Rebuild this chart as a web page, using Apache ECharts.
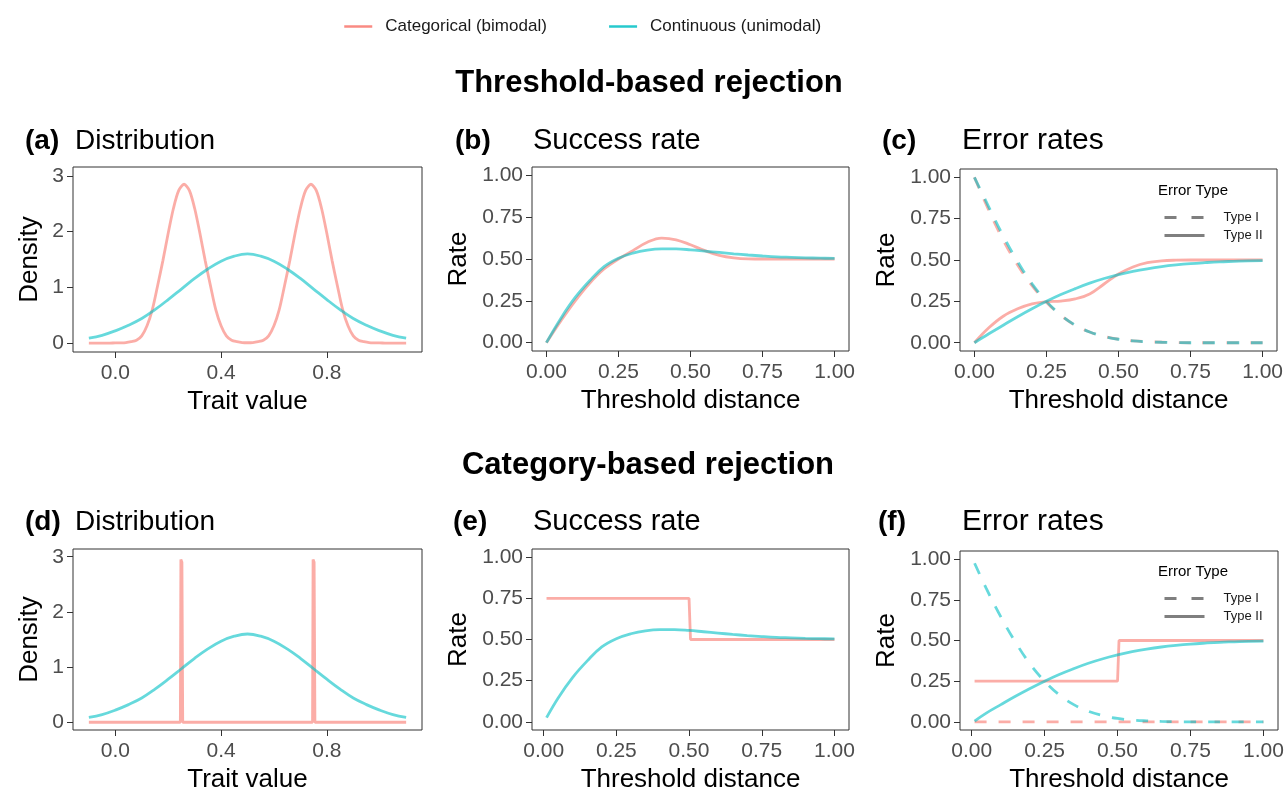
<!DOCTYPE html>
<html>
<head>
<meta charset="utf-8">
<title>Threshold vs category rejection</title>
<script src="https://cdn.jsdelivr.net/npm/echarts@6/dist/echarts.min.js"></script>
<style>
  html, body { margin: 0; padding: 0; background: #fff; }
  #main { width: 1288px; height: 794px; }
</style>
</head>
<body>
<div id="main"></div>
<script>
// 数据
var CAT = 'Categorical (bimodal)';
var CONT = 'Continuous (unimodal)';

// (a)/(d) trait value grid
var traitX = [-0.1, -0.05, 0, 0.05, 0.1, 0.15, 0.2, 0.25, 0.3, 0.35, 0.4, 0.45, 0.5,
  0.55, 0.6, 0.65, 0.7, 0.75, 0.8, 0.85, 0.9, 0.95, 1.0, 1.05, 1.1];
var densCont = [0.09, 0.14, 0.22, 0.32, 0.44, 0.60, 0.78, 0.97, 1.16, 1.33, 1.47, 1.56, 1.60,
  1.56, 1.47, 1.33, 1.16, 0.97, 0.78, 0.60, 0.44, 0.32, 0.22, 0.14, 0.09];

// (a) bimodal density
var catX = [-0.1, -0.08, -0.06, -0.04, -0.02,
  0.00, 0.02, 0.04, 0.06, 0.08, 0.10, 0.12, 0.14, 0.16, 0.18, 0.20, 0.22, 0.24,
  0.26, 0.28, 0.30, 0.32, 0.34, 0.36, 0.38, 0.40, 0.42, 0.44, 0.46, 0.48, 0.50,
  0.52, 0.54, 0.56, 0.58, 0.60, 0.62, 0.64, 0.66, 0.68, 0.70, 0.72, 0.74,
  0.76, 0.78, 0.80, 0.82, 0.84, 0.86, 0.88, 0.90, 0.92, 0.94, 0.96, 0.98, 1.00,
  1.02, 1.04, 1.06, 1.08, 1.10];
var densCat = [0, 0, 0, 0, 0.001,
  0.002, 0.003, 0.008, 0.025, 0.05, 0.13, 0.31, 0.60, 1.03, 1.48, 1.97, 2.42, 2.74,
  2.85, 2.74, 2.42, 1.97, 1.48, 1.03, 0.60, 0.31, 0.13, 0.05, 0.025, 0.01, 0.006,
  0.01, 0.025, 0.05, 0.13, 0.31, 0.60, 1.03, 1.48, 1.97, 2.42, 2.74, 2.85,
  2.74, 2.42, 1.97, 1.48, 1.03, 0.60, 0.31, 0.13, 0.05, 0.025, 0.008, 0.003, 0.002,
  0.001, 0, 0, 0, 0];

// (d) categorical spikes
var spikeX = [-0.1, 0.246, 0.248, 0.252, 0.255, 0.746, 0.748, 0.752, 0.755, 1.1];
var spikeY = [0, 0, 2.95, 2.9, 0, 0, 2.95, 2.9, 0, 0];

// threshold distance grid
var threshX = [0, 0.05, 0.1, 0.15, 0.2, 0.25, 0.3, 0.35, 0.4, 0.45, 0.5,
  0.55, 0.6, 0.65, 0.7, 0.75, 0.8, 0.85, 0.9, 0.95, 1.0];
var threshX2 = [0.01, 0.05, 0.1, 0.15, 0.2, 0.25, 0.3, 0.35, 0.4, 0.45, 0.5,
  0.55, 0.6, 0.65, 0.7, 0.75, 0.8, 0.85, 0.9, 0.95, 1.0];

// (b) success rate
var succCat = [0, 0.13, 0.25, 0.355, 0.44, 0.50, 0.55, 0.60, 0.625, 0.615, 0.585,
  0.55, 0.522, 0.507, 0.501, 0.5, 0.5, 0.5, 0.5, 0.5, 0.5];
var succCont = [0, 0.145, 0.27, 0.37, 0.455, 0.505, 0.535, 0.553, 0.56, 0.56, 0.555,
  0.547, 0.539, 0.531, 0.524, 0.518, 0.513, 0.51, 0.507, 0.505, 0.504];

// (c) error rates
var typeICat = [1.0, 0.80, 0.62, 0.47, 0.345, 0.245, 0.165, 0.105, 0.065, 0.038, 0.021,
  0.011, 0.006, 0.003, 0.001, 0, 0, 0, 0, 0, 0];
var typeICont = [1.0, 0.82, 0.645, 0.49, 0.356, 0.25, 0.167, 0.106, 0.065, 0.038, 0.021,
  0.011, 0.006, 0.003, 0.001, 0, 0, 0, 0, 0, 0];
var typeIICat = [0, 0.09, 0.16, 0.205, 0.235, 0.248, 0.252, 0.265, 0.295, 0.355, 0.415,
  0.458, 0.484, 0.495, 0.499, 0.5, 0.5, 0.5, 0.5, 0.5, 0.5];
var typeIICont = [0, 0.054, 0.106, 0.157, 0.205, 0.25, 0.291, 0.327, 0.36, 0.388, 0.411,
  0.431, 0.447, 0.46, 0.47, 0.478, 0.484, 0.489, 0.492, 0.495, 0.496];

// (e)/(f) category-based rejection
var succCont2 = [0.025, 0.145, 0.27, 0.37, 0.455, 0.505, 0.535, 0.553, 0.56, 0.56, 0.555,
  0.547, 0.539, 0.531, 0.524, 0.518, 0.513, 0.51, 0.507, 0.505, 0.504];
var typeICont2 = [0.975, 0.82, 0.645, 0.49, 0.356, 0.25, 0.167, 0.106, 0.065, 0.038, 0.021,
  0.011, 0.006, 0.003, 0.001, 0, 0, 0, 0, 0, 0];
var typeIICont2 = [0.005, 0.054, 0.106, 0.157, 0.205, 0.25, 0.291, 0.327, 0.36, 0.388, 0.411,
  0.431, 0.447, 0.46, 0.47, 0.478, 0.484, 0.489, 0.492, 0.495, 0.496];
var stepX = [0.01, 0.5, 0.505, 1.0];
var succCatStep = [0.75, 0.75, 0.5, 0.5];
var typeIICatStep = [0.25, 0.25, 0.5, 0.5];
var flatX = [0.01, 1.0];
var typeICatFlat = [0, 0];

// 刻度
var traitTicks = [0, 0.4, 0.8];
var densTicks = [0, 1, 2, 3];
var rateTicks = [0, 0.25, 0.5, 0.75, 1];

var RED = '#F8766D';
var CYAN = '#00BFC4';
var FONT = '"Liberation Sans", Arial, sans-serif';

function zip(xs, ys) {
  return xs.map(function (x, i) { return [x, ys[i]]; });
}

function line(name, xs, ys, idx, color, dashed, smooth) {
  return {
    type: 'line',
    name: name,
    xAxisIndex: idx,
    yAxisIndex: idx,
    data: zip(xs, ys),
    symbol: 'none',
    smooth: smooth,
    color: color,
    lineStyle: { color: color, width: 2.8, opacity: 0.6, type: dashed ? [12, 12] : 'solid' },
    silent: true
  };
}

var myChart = echarts.init(document.getElementById('main'), null, { renderer: 'canvas' });

var grids = [
  { left: 73, top: 167, width: 349, height: 185 },
  { left: 532, top: 167, width: 317, height: 184 },
  { left: 960, top: 169, width: 317, height: 182 },
  { left: 73, top: 549, width: 349, height: 184 },
  { left: 532, top: 549, width: 317, height: 184 },
  { left: 960, top: 551, width: 318, height: 183 }
].map(function (g) {
  g.show = true;
  g.borderColor = '#333';
  g.borderWidth = 1;
  g.backgroundColor = 'transparent';
  return g;
});

function xAxis(idx, name, min, max, ticks, digits) {
  return {
    type: 'value', gridIndex: idx, min: min, max: max, position: 'bottom',
    name: name, nameLocation: 'middle', nameGap: 37,
    nameTextStyle: { fontSize: 26, color: '#000', fontFamily: FONT },
    axisLine: { show: false, onZero: false },
    splitLine: { show: false },
    axisTick: { show: true, length: 6, customValues: ticks, lineStyle: { color: '#333', width: 1 } },
    axisLabel: {
      customValues: ticks, margin: 11, fontSize: 21, color: '#4d4d4d', fontFamily: FONT,
      formatter: function (v) { return v.toFixed(digits); }
    }
  };
}

function yAxis(idx, name, min, max, ticks, digits, gap) {
  return {
    type: 'value', gridIndex: idx, min: min, max: max, position: 'left',
    name: name, nameLocation: 'middle', nameGap: gap, nameRotate: 90,
    nameTextStyle: { fontSize: 26, color: '#000', fontFamily: FONT },
    axisLine: { show: false, onZero: false },
    splitLine: { show: false },
    axisTick: { show: true, length: 6, customValues: ticks, lineStyle: { color: '#333', width: 1 } },
    axisLabel: {
      customValues: ticks, margin: 9, fontSize: 21, color: '#4d4d4d', fontFamily: FONT,
      formatter: function (v) { return v.toFixed(digits); }
    }
  };
}

var xAxes = [
  xAxis(0, 'Trait value', -0.16, 1.16, traitTicks, 1),
  xAxis(1, 'Threshold distance', -0.05, 1.05, rateTicks, 2),
  xAxis(2, 'Threshold distance', -0.05, 1.05, rateTicks, 2),
  xAxis(3, 'Trait value', -0.16, 1.16, traitTicks, 1),
  xAxis(4, 'Threshold distance', -0.04, 1.05, rateTicks, 2),
  xAxis(5, 'Threshold distance', -0.04, 1.05, rateTicks, 2)
];
var yAxes = [
  yAxis(0, 'Density', -0.16, 3.16, densTicks, 0, 30),
  yAxis(1, 'Rate', -0.05, 1.05, rateTicks, 2, 60),
  yAxis(2, 'Rate', -0.05, 1.05, rateTicks, 2, 60),
  yAxis(3, 'Density', -0.14, 3.14, densTicks, 0, 30),
  yAxis(4, 'Rate', -0.05, 1.05, rateTicks, 2, 60),
  yAxis(5, 'Rate', -0.05, 1.05, rateTicks, 2, 60)
];

var series = [
  // (a)
  line(CAT, catX, densCat, 0, RED, false, 0.3),
  line(CONT, traitX, densCont, 0, CYAN, false, 0.4),
  // (b)
  line(CAT, threshX, succCat, 1, RED, false, 0.4),
  line(CONT, threshX, succCont, 1, CYAN, false, 0.4),
  // (c)
  line(CAT, threshX, typeICat, 2, RED, true, 0.4),
  line(CONT, threshX, typeICont, 2, CYAN, true, 0.4),
  line(CAT, threshX, typeIICat, 2, RED, false, 0.4),
  line(CONT, threshX, typeIICont, 2, CYAN, false, 0.4),
  // (d)
  line(CAT, spikeX, spikeY, 3, RED, false, false),
  line(CONT, traitX, densCont, 3, CYAN, false, 0.4),
  // (e)
  line(CAT, stepX, succCatStep, 4, RED, false, false),
  line(CONT, threshX2, succCont2, 4, CYAN, false, 0.4),
  // (f)
  line(CAT, flatX, typeICatFlat, 5, RED, true, false),
  line(CONT, threshX2, typeICont2, 5, CYAN, true, 0.4),
  line(CAT, stepX, typeIICatStep, 5, RED, false, false),
  line(CONT, threshX2, typeIICont2, 5, CYAN, false, 0.4),
  // 图例用
  { type: 'line', name: 'Type I', xAxisIndex: 2, yAxisIndex: 2, data: [], symbol: 'none', color: '#7f7f7f',
    lineStyle: { color: '#7f7f7f', width: 3, type: [12, 15] } },
  { type: 'line', name: 'Type II', xAxisIndex: 2, yAxisIndex: 2, data: [], symbol: 'none', color: '#7f7f7f',
    lineStyle: { color: '#7f7f7f', width: 3, type: 'solid' } }
];

function typeLegend(top) {
  return {
    orient: 'vertical', left: 1163, top: top, padding: 0,
    itemWidth: 40, itemHeight: 14, itemGap: 5, selectedMode: false,
    itemStyle: { opacity: 0 },
    lineStyle: { width: 3 },
    data: ['Type I', 'Type II'],
    textStyle: { fontSize: 13, color: '#1a1a1a', fontFamily: FONT, padding: [0, 0, 0, 14] }
  };
}

function txt(s, x, y, size, bold, align) {
  return {
    type: 'text', x: x, y: y, silent: true,
    style: {
      text: s, fill: '#000', align: align || 'left', verticalAlign: 'middle',
      font: (bold ? 'bold ' : '') + size + 'px ' + FONT
    }
  };
}

var option = {
  animation: false,
  backgroundColor: '#fff',
  textStyle: { fontFamily: FONT },
  grid: grids,
  xAxis: xAxes,
  yAxis: yAxes,
  legend: [
    {
      left: 343, top: 18, padding: 0, itemWidth: 28, itemHeight: 14, itemGap: 61,
      selectedMode: false,
      itemStyle: { opacity: 0 },
      lineStyle: { width: 2.5, opacity: 0.85 },
      data: [CAT, CONT],
      textStyle: { fontSize: 17, color: '#1a1a1a', fontFamily: FONT, padding: [0, 0, 0, 8] }
    },
    typeLegend(211),
    typeLegend(592)
  ],
  graphic: [
    txt('Threshold-based rejection', 649, 83, 31, true, 'center'),
    txt('Category-based rejection', 648, 465, 31, true, 'center'),
    txt('(a)', 25, 141, 28, true), txt('Distribution', 75, 141, 28, false),
    txt('(b)', 455, 141, 28, true), txt('Success rate', 533, 141, 29, false),
    txt('(c)', 882, 141, 28, true), txt('Error rates', 962, 141, 30, false),
    txt('(d)', 25, 522, 28, true), txt('Distribution', 75, 522, 28, false),
    txt('(e)', 453, 522, 28, true), txt('Success rate', 533, 522, 29, false),
    txt('(f)', 878, 522, 28, true), txt('Error rates', 962, 522, 30, false),
    txt('Error Type', 1158, 191, 15, false),
    txt('Error Type', 1158, 572, 15, false)
  ],
  series: series
};

myChart.setOption(option);
window.onresize = function () {
  myChart.resize();
};
</script>
</body>
</html>
